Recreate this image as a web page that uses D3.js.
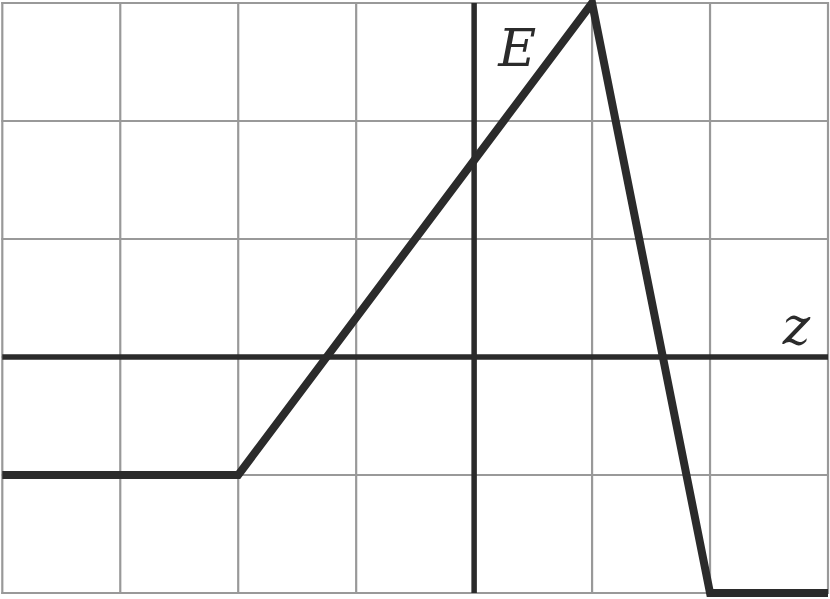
<!DOCTYPE html>
<html>
<head>
<meta charset="utf-8">
<script src="https://cdn.jsdelivr.net/npm/d3@7"></script>
<style>
  html, body { margin: 0; padding: 0; background: #fff; }
  svg { display: block; }
</style>
</head>
<body>
<div id="chart"></div>
<script>
// grid extent in z (horizontal) and E (vertical) units
const zDomain = [-4, 3];
const eDomain = [-2, 3];
const zTicks = [-4, -3, -2, -1, 0, 1, 2, 3];
const eTicks = [-2, -1, 0, 1, 2, 3];

// the E(z) polyline
const zValues = [-4, -2, 1, 2, 3];
const eValues = [-1, -1, 3, -2, -2];

const width = 830, height = 599;

const svg = d3.select("#chart").append("svg")
    .attr("width", width)
    .attr("height", height);

const x = d3.scaleLinear().domain(zDomain).range([2.3, 828]);
const y = d3.scaleLinear().domain(eDomain).range([593, 3]);

// grid
const grid = svg.append("g").attr("stroke", "#999").attr("stroke-width", 2.2);
grid.selectAll("line.v").data(zTicks).join("line")
    .attr("class", "v")
    .attr("x1", d => x(d)).attr("x2", d => x(d))
    .attr("y1", y(eDomain[0]) + 1).attr("y2", y(eDomain[1]) - 1);
grid.selectAll("line.h").data(eTicks).join("line")
    .attr("class", "h")
    .attr("x1", x(zDomain[0]) - 1).attr("x2", x(zDomain[1]) + 1)
    .attr("y1", d => y(d)).attr("y2", d => y(d));

// axes
const axes = svg.append("g").attr("stroke", "#2b2b2b").attr("stroke-width", 5.5);
axes.append("line")
    .attr("x1", x(zDomain[0])).attr("x2", x(zDomain[1]))
    .attr("y1", y(0)).attr("y2", y(0));
axes.append("line")
    .attr("x1", x(0)).attr("x2", x(0))
    .attr("y1", y(eDomain[0])).attr("y2", y(eDomain[1]));

// curve
const pts = zValues.map((z, i) => [z, eValues[i]]);
svg.append("path")
    .datum(pts)
    .attr("fill", "none")
    .attr("stroke", "#2b2b2b")
    .attr("stroke-width", 8)
    .attr("stroke-linejoin", "miter")
    .attr("stroke-linecap", "butt")
    .attr("d", d3.line().x(d => x(d[0])).y(d => y(d[1])));

// labels
const label = svg.append("g")
    .attr("font-family", "'DejaVu Serif', serif")
    .attr("font-style", "italic")
    .attr("font-size", 52)
    .attr("fill", "#2b2b2b");
label.append("text").attr("x", x(0) + 24).attr("y", y(2.5) + 4).text("E");
label.append("text").attr("x", x(2.6) + 2).attr("y", y(0) - 13).text("z");
</script>
</body>
</html>
